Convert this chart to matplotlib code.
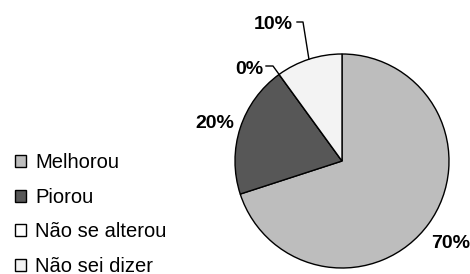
import matplotlib
matplotlib.use("Agg")
import matplotlib.pyplot as plt
import numpy as np

plt.rcParams['font.family'] = ['Liberation Sans', 'DejaVu Sans']

categories = ["Melhorou", "Piorou", "Não se alterou", "Não sei dizer"]
values = [70, 20, 0, 10]
pct_labels = ["70%", "20%", "0%", "10%"]
colors = ["#bdbdbd", "#575757", "#ffffff", "#f3f3f3"]

# figure in pixel-like units (1 unit = 100 px)
fig = plt.figure(figsize=(4.7, 2.74), dpi=100)
ax = fig.add_axes([0, 0, 1, 1])

cx, cy, r = 3.42, 1.13, 1.07
wedges, _ = ax.pie(values, colors=colors, startangle=90, counterclock=False,
                   center=(cx, cy), radius=r, frame=True,
                   wedgeprops=dict(edgecolor='black', linewidth=1.0))
ax.set_xlim(0, 4.7)
ax.set_ylim(0, 2.74)
ax.set_aspect('equal')
ax.axis('off')

# percent labels
for w, lab in zip(wedges, pct_labels):
    mid = np.deg2rad((w.theta1 + w.theta2) / 2)
    ex, ey = cx + r * np.cos(mid), cy + r * np.sin(mid)
    if lab == "70%" or lab == "20%":
        d = 1.25
        ax.text(cx + r * d * np.cos(mid), cy + r * d * np.sin(mid) - 0.035, lab,
                ha='center', va='center', fontsize=14, fontweight='bold')
    elif lab == "0%":
        ax.plot([2.66, 2.73, ex], [2.08, 2.08, ey], color='black', lw=1)
        ax.text(2.63, 2.05, lab, ha='right', va='center', fontsize=14, fontweight='bold')
    else:
        ax.plot([2.97, 3.03, ex], [2.52, 2.52, ey], color='black', lw=1)
        ax.text(2.93, 2.49, lab, ha='right', va='center', fontsize=14, fontweight='bold')

leg = ax.legend(wedges, categories, loc='upper left', bbox_to_anchor=(0.15, 1.21),
                bbox_transform=ax.transData,
                frameon=False, fontsize=14.5, handlelength=0.55, handleheight=0.55,
                handletextpad=0.45, labelspacing=0.78, borderpad=0, borderaxespad=0)

fig.savefig("out.png", dpi=100)
